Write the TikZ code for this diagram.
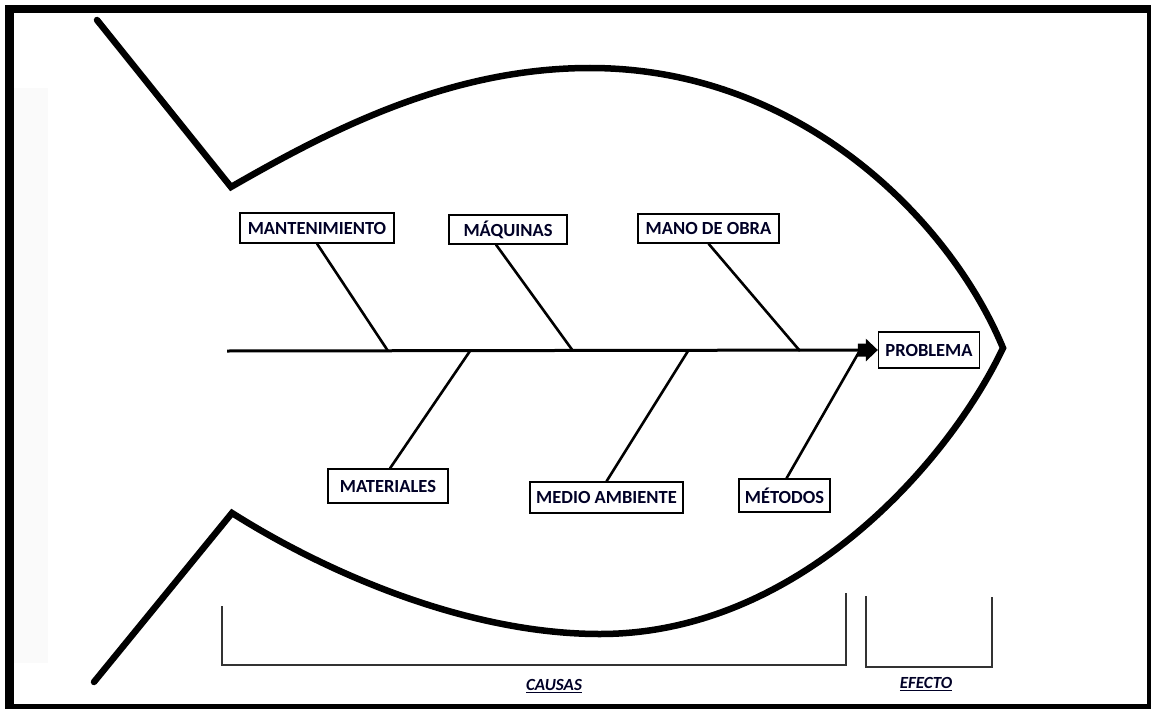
\documentclass[tikz,border=0pt]{standalone}
\usepackage{fontspec}
\setmainfont{Carlito}
\usetikzlibrary{arrows.meta}

\tikzset{
  frame/.style={fill=black},
  fishline/.style={line width=6.5pt, line cap=round, line join=miter},
  spine/.style={line width=3pt, -{Rectangle[length=9pt,width=13pt,sep=-1pt]Triangle[length=12pt,width=22pt]}},
  bone/.style={line width=2.6pt},
  causebox/.style={draw=black, line width=1.3pt, fill=white, inner sep=0pt,
                   font=\fontsize{18.5}{21}\selectfont\bfseries, text=black!85!blue},
  bracket/.style={draw=black!80, line width=1.3pt},
  caption/.style={font=\fontsize{17}{19}\selectfont\bfseries\itshape, text=black!85!blue}
}

\begin{document}
\begin{tikzpicture}[x=1pt,y=-1pt]
  \useasboundingbox (0,0) rectangle (1151,709);

  % page frame
  \fill[frame] (5,5) rectangle (1151,709);
  \fill[white] (14,13) rectangle (1147,704);
  \fill[black!2] (14,88) rectangle (48,663);

  % fish outline: tail, back, nose, belly, tail
  \draw[fishline] (97,20) -- (231,187)
     .. controls (330,130) and (450,68) .. (590,68)
     .. controls (800,68) and (950,220) .. (1003,348)
     .. controls (950,460) and (800,634) .. (600,634)
     .. controls (470,634) and (330,575) .. (232,513)
     -- (94,682);

  % effect
  \node[causebox, minimum width=101pt, minimum height=36pt] (prob) at (929,350) {PROBLEMA};

  % causes
  \node[causebox, minimum width=154pt, minimum height=30pt] (mant) at (317,228) {MANTENIMIENTO};
  \node[causebox, minimum width=118pt, minimum height=29pt] (maq)  at (508,229.5) {MÁQUINAS};
  \node[causebox, minimum width=141pt, minimum height=29pt] (mano) at (708.5,228.5) {MANO DE OBRA};
  \node[causebox, minimum width=120pt, minimum height=34pt] (mat)  at (388,486) {MATERIALES};
  \node[causebox, minimum width=153pt, minimum height=31pt] (medio) at (606.5,497.5) {MEDIO AMBIENTE};
  \node[causebox, minimum width=91pt,  minimum height=33pt] (met)  at (784.5,495.5) {MÉTODOS};

  % main spine
  \coordinate (tailend) at (227,351);
  \draw[spine] (tailend) -- (prob.west);

  % points where the bones meet the spine
  \coordinate (s1) at (388,351);
  \coordinate (s2) at (573,351);
  \coordinate (s3) at (800,351);
  \coordinate (s4) at (470,351);
  \coordinate (s5) at (688,351);
  \coordinate (s6) at (859,352);

  \draw[bone] (mant.south) -- (s1);
  \draw[bone] ([xshift=-12pt]maq.south) -- (s2);
  \draw[bone] (mano.south) -- (s3);
  \draw[bone] (s4) -- ([xshift=2pt]mat.north);
  \draw[bone] (s5) -- (medio.north);
  \draw[bone] (s6) -- ([xshift=2pt]met.north);

  % brackets with captions
  \coordinate (c1) at (222,606);
  \coordinate (c2) at (222,665);
  \coordinate (c3) at (846,665);
  \coordinate (c4) at (846,593);
  \draw[bracket] (c1) -- (c2) -- (c3) -- (c4);
  \coordinate (e1) at (866,596);
  \coordinate (e2) at (866,667);
  \coordinate (e3) at (992,667);
  \coordinate (e4) at (992,597);
  \draw[bracket] (e1) -- (e2) -- (e3) -- (e4);

  \node[caption] (causas) at (554,686) {\underline{CAUSAS}};
  \node[caption] (efecto) at (926,684) {\underline{EFECTO}};
\end{tikzpicture}
\end{document}
